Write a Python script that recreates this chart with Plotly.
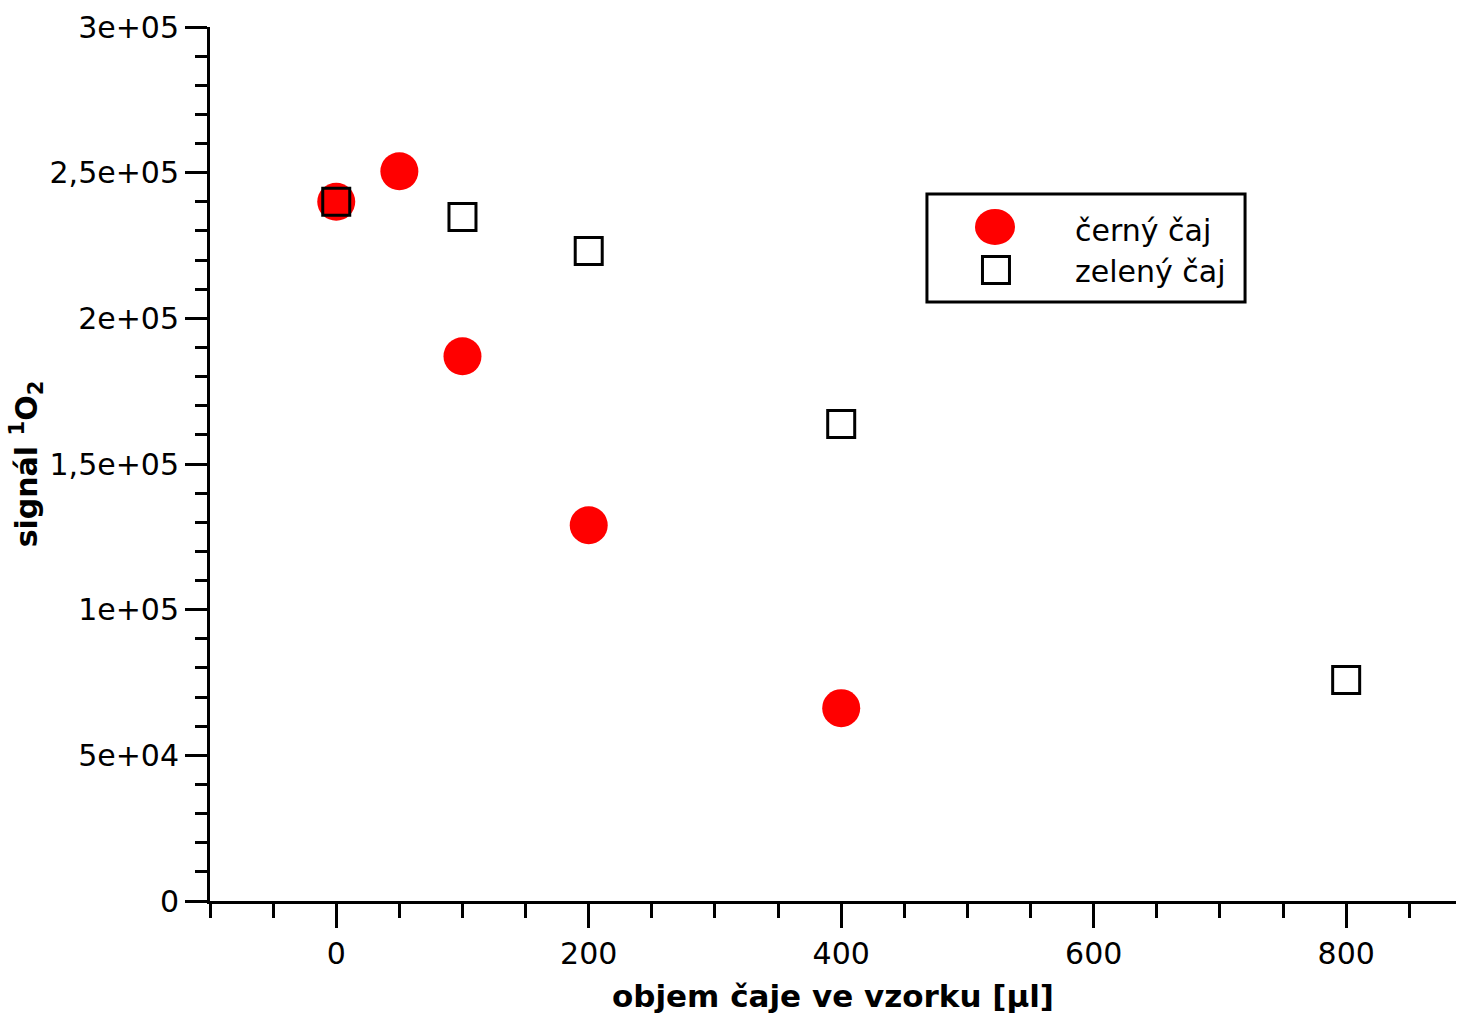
import plotly.graph_objects as go

# data
objem_cerny = [0, 50, 100, 200, 400]
signal_cerny = [240000, 250500, 187000, 129000, 66200]
objem_zeleny = [0, 100, 200, 400, 800]
signal_zeleny = [240000, 234800, 223100, 163700, 75900]

y_tickvals = [0, 50000, 100000, 150000, 200000, 250000, 300000]
y_ticktext = ["0", "5e+04", "1e+05", "1,5e+05", "2e+05", "2,5e+05", "3e+05"]
x_tickvals = [0, 200, 400, 600, 800]
x_ticktext = ["0", "200", "400", "600", "800"]

legend_names = ["černý čaj", "zelený čaj"]

FONT = "DejaVu Sans, Verdana, sans-serif"

fig = go.Figure()
fig.add_trace(go.Scatter(
    x=objem_cerny, y=signal_cerny, mode="markers", name=legend_names[0],
    marker=dict(symbol="circle", size=38, color="#ff0000", line=dict(width=0)),
    showlegend=False,
))
fig.add_trace(go.Scatter(
    x=objem_zeleny, y=signal_zeleny, mode="markers", name=legend_names[1],
    marker=dict(symbol="square-open", size=27, color="#000000", line=dict(width=3, color="#000000")),
    showlegend=False,
))

# manual legend (large symbols)
fig.add_shape(type="rect", xref="paper", yref="paper", x0=0.5754, x1=0.8307, y0=0.6854, y1=0.8089,
              line=dict(color="black", width=3), fillcolor="white", layer="below")
fig.add_shape(type="circle", xref="paper", yref="paper", xsizemode="pixel", ysizemode="pixel",
              xanchor=0.630, yanchor=0.7712, x0=-20, x1=20, y0=-18, y1=18,
              fillcolor="#ff0000", line=dict(width=0))
fig.add_shape(type="rect", xref="paper", yref="paper", xsizemode="pixel", ysizemode="pixel",
              xanchor=0.6308, yanchor=0.722, x0=-13.5, x1=13.5, y0=-13.5, y1=13.5,
              fillcolor="rgba(0,0,0,0)", line=dict(color="black", width=3))
for name, yy in zip(legend_names, [0.7677, 0.7208]):
    fig.add_annotation(xref="paper", yref="paper", x=0.6926, y=yy, text=name, showarrow=False,
                       xanchor="left", yanchor="middle", font=dict(family=FONT, size=30, color="black"))

fig.update_layout(
    width=1458, height=1015,
    margin=dict(l=210, r=2, t=27, b=114, autoexpand=False),
    plot_bgcolor="white", paper_bgcolor="white",
    font=dict(family=FONT, size=30, color="black"),
)
fig.update_xaxes(
    range=[-100, 887], showgrid=False, zeroline=False,
    showline=True, linecolor="black", linewidth=3,
    ticks="outside", ticklen=24, tickwidth=3, tickcolor="black",
    tickmode="array", tickvals=x_tickvals, ticktext=x_ticktext,
    tickfont=dict(family=FONT, size=30, color="black"),
    minor=dict(ticks="outside", ticklen=14, tickwidth=3, tickcolor="black", dtick=50, tick0=0, showgrid=False),
    title=dict(text="<b>objem čaje ve vzorku [µl]</b>", font=dict(family=FONT, size=31, color="black"), standoff=16),
)
fig.update_yaxes(
    range=[0, 300000], showgrid=False, zeroline=False,
    showline=True, linecolor="black", linewidth=3,
    ticks="outside", ticklen=22, tickwidth=3, tickcolor="black",
    tickmode="array", tickvals=y_tickvals, ticktext=y_ticktext,
    tickfont=dict(family=FONT, size=30, color="black"),
    minor=dict(ticks="outside", ticklen=12, tickwidth=3, tickcolor="black", dtick=10000, tick0=0, showgrid=False),
    title=dict(text="<b>signál <sup>1</sup>O<sub>2</sub></b>", font=dict(family=FONT, size=30, color="black"), standoff=4),
)

fig.write_html("out.html", config={"displayModeBar": False},
               post_script="document.body.style.margin='0';document.body.style.overflow='hidden';")
